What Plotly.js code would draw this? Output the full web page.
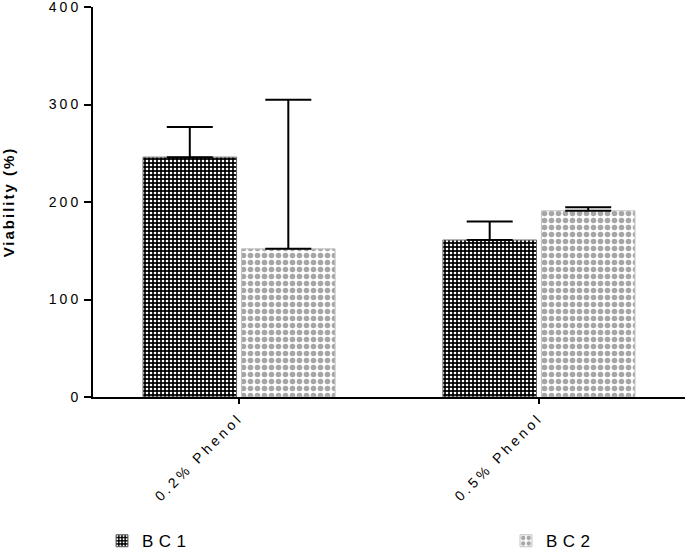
<!DOCTYPE html>
<html>
<head>
<meta charset="utf-8">
<script src="https://cdn.plot.ly/plotly-3.0.1.min.js"></script>
<style>
  html, body { margin: 0; padding: 0; background: #fff; }
  #chart { width: 685px; height: 550px; }
  .ytick text { letter-spacing: 3px; }
  .xtick text { letter-spacing: 3.5px; }
  .ytitle { letter-spacing: 2px; }
  .legendtext, g[class^="legend"] text { letter-spacing: 5.5px !important; }
</style>
</head>
<body>
<div id="chart"></div>
<script>
const categories = ['0.2% Phenol', '0.5% Phenol'];
const seriesNames = ['BC1', 'BC2'];
const bc1Values = [246, 161];
const bc1ErrPlus = [31, 19];
const bc2Values = [152, 191];
const bc2ErrPlus = [153, 3.5];
const yTickValues = [0, 100, 200, 300, 400];

const errStyle = { type: 'data', symmetric: false, arrayminus: [0, 0], color: '#000', thickness: 2, width: 23 };

const traces = [
  {
    type: 'bar', name: seriesNames[0], legend: 'legend',
    x: categories, y: bc1Values,
    error_y: Object.assign({}, errStyle, { array: bc1ErrPlus }),
    marker: {
      color: '#000',
      line: { color: '#666', width: 1 },
      pattern: { shape: '.', bgcolor: '#000', fgcolor: '#fff', size: 4, solidity: 0.35, fillmode: 'replace' }
    }
  },
  {
    type: 'bar', name: seriesNames[1], legend: 'legend2',
    x: categories, y: bc2Values,
    error_y: Object.assign({}, errStyle, { array: bc2ErrPlus }),
    marker: {
      color: '#a6a6a6',
      line: { color: '#c4c4c4', width: 1 },
      pattern: { shape: '.', bgcolor: '#fff', fgcolor: '#a6a6a6', size: 7, solidity: 0.5, fillmode: 'replace' }
    }
  }
];

const legendCommon = {
  orientation: 'h', xref: 'container', yref: 'container', yanchor: 'middle', xanchor: 'left',
  y: 0.016, font: { size: 17 }, bgcolor: 'rgba(0,0,0,0)', borderwidth: 0,
  entrywidth: 95, entrywidthmode: 'pixels'
};

const layout = {
  width: 685, height: 550,
  margin: { l: 93, r: 0, t: 7, b: 153, autoexpand: false },
  paper_bgcolor: '#fff', plot_bgcolor: '#fff',
  font: { family: 'Liberation Sans, Arial, sans-serif', color: '#000', size: 14 },
  barmode: 'group', bargap: 0.343, bargroupgap: 0.05,
  showlegend: true,
  legend: Object.assign({}, legendCommon, { x: 102 / 685 }),
  legend2: Object.assign({}, legendCommon, { x: 506 / 685 }),
  xaxis: {
    type: 'category', range: [-0.487, 1.487], fixedrange: true, automargin: false,
    showline: true, linecolor: '#000', linewidth: 2,
    ticks: 'outside', ticklen: 5, tickwidth: 2, tickcolor: '#000',
    tickangle: -45, tickfont: { size: 14 }, showgrid: false, zeroline: false
  },
  yaxis: {
    range: [0, 400], tickvals: yTickValues, ticktext: yTickValues.map(String), automargin: false,
    ticklabeloverflow: 'allow',
    showline: true, linecolor: '#000', linewidth: 2,
    ticks: 'outside', ticklen: 7, tickwidth: 2, tickcolor: '#000',
    tickfont: { size: 14 }, showgrid: false, zeroline: false,
    title: { text: 'Viability (%)', font: { size: 15, weight: 'bold' }, standoff: 31 }
  }
};

Plotly.newPlot('chart', traces, layout, { staticPlot: true, displayModeBar: false });
</script>
</body>
</html>
